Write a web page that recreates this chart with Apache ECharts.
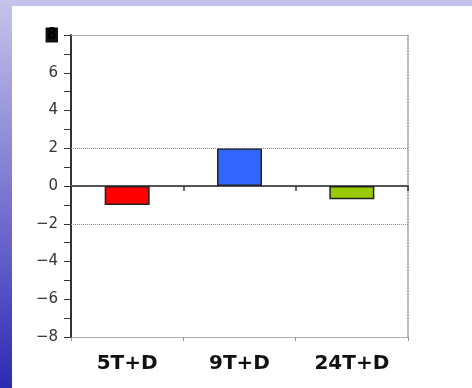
<!DOCTYPE html>
<html>
<head>
<meta charset="utf-8">
<script src="https://cdn.jsdelivr.net/npm/echarts@6/dist/echarts.min.js"></script>
<style>
  html, body { margin: 0; padding: 0; background: #ffffff; }
  #chart { width: 472px; height: 388px; }
</style>
</head>
<body>
<div id="chart"></div>
<script>
// Treatment groups and their change values
const categories = ['5T+D', '9T+D', '24T+D'];
const changeValues = [-1.0, 2.0, -0.7];
const barColors = ['#ff0000', '#3366ff', '#99cc00'];
// Reference band limits drawn as dotted lines
const referenceLevels = [2, -2];
// Value axis range
const yMin = -8, yMax = 8, yStep = 2;

const chart = echarts.init(document.getElementById('chart'), null, { renderer: 'canvas' });

const axisFont = 'DejaVu Sans, Verdana, sans-serif';

const option = {
  animation: false,
  backgroundColor: '#ffffff',
  graphic: [
    // slide-style border: lavender band along the top, blue gradient strip at left
    {
      type: 'rect', left: 0, top: 0, z: -10,
      shape: { width: 472, height: 6 },
      style: { fill: '#c4c2ea' }
    },
    {
      type: 'rect', left: 0, top: 0, z: -10,
      shape: { width: 12, height: 388 },
      style: {
        fill: new echarts.graphic.LinearGradient(0, 0, 0, 1, [
          { offset: 0, color: '#c6c4ec' },
          { offset: 0.4, color: '#8a86d6' },
          { offset: 0.75, color: '#5450c4' },
          { offset: 1, color: '#2c2ab2' }
        ])
      }
    }
  ],
  grid: { left: 71, right: 64, top: 35, bottom: 51, containLabel: false },
  xAxis: [
    {
      // bottom axis carrying the group labels
      type: 'category',
      data: categories,
      position: 'bottom',
      axisLine: { onZero: false, lineStyle: { color: '#999', type: 'dotted', width: 1 } },
      axisTick: { show: true, length: 4, lineStyle: { color: '#999' } },
      axisLabel: {
        margin: 17,
        fontFamily: axisFont,
        fontSize: 20,
        fontWeight: 'bold',
        color: '#111'
      },
      splitLine: { show: false }
    },
    {
      // zero baseline with group separator ticks
      type: 'category',
      data: categories,
      position: 'bottom',
      axisLine: { onZero: true, onZeroAxisIndex: 0, lineStyle: { color: '#555', width: 2 } },
      axisTick: { show: true, length: 5, lineStyle: { color: '#333', width: 1.5 } },
      axisLabel: { show: false },
      splitLine: { show: false }
    },
    {
      // dotted frame along the top
      type: 'category',
      data: categories,
      position: 'top',
      axisLine: { onZero: false, lineStyle: { color: '#999', type: 'dotted', width: 1 } },
      axisTick: { show: false },
      axisLabel: { show: false }
    }
  ],
  yAxis: [
    {
      type: 'value',
      min: yMin,
      max: yMax,
      interval: yStep,
      position: 'left',
      axisLine: { show: true, onZero: false, lineStyle: { color: '#333', width: 2 } },
      axisTick: { show: true, inside: false, length: 7, lineStyle: { color: '#333', width: 1 } },
      minorTick: { show: true, splitNumber: 2, length: 7, lineStyle: { color: '#333', width: 1 } },
      splitLine: { show: false },
      axisLabel: {
        margin: 13,
        fontFamily: axisFont,
        fontSize: 15,
        color: '#333',
        formatter: function (v) {
          if (v === yMax) return '{top|' + v + '}';
          return v < 0 ? '\u2212' + (-v) : String(v);
        },
        rich: {
          top: { fontFamily: axisFont, fontSize: 15, fontWeight: 900, color: '#000', backgroundColor: '#111', padding: [0, 1] }
        }
      }
    },
    {
      // dotted frame along the right
      type: 'value',
      min: yMin,
      max: yMax,
      interval: yStep,
      position: 'right',
      axisLine: { show: true, onZero: false, lineStyle: { color: '#999', type: 'dotted', width: 1.5 } },
      axisTick: { show: false },
      axisLabel: { show: false },
      splitLine: { show: false }
    }
  ],
  series: [
    {
      type: 'bar',
      xAxisIndex: 0,
      yAxisIndex: 0,
      barWidth: 45,
      data: changeValues.map((v, i) => ({
        value: v,
        itemStyle: { color: barColors[i], borderColor: '#222', borderWidth: 1.5 }
      })),
      markLine: {
        silent: true,
        symbol: 'none',
        label: { show: false },
        lineStyle: { color: '#888', type: 'dotted', width: 1 },
        data: referenceLevels.map(v => ({ yAxis: v }))
      },
      z: 3
    }
  ]
};

chart.setOption(option);
</script>
</body>
</html>
